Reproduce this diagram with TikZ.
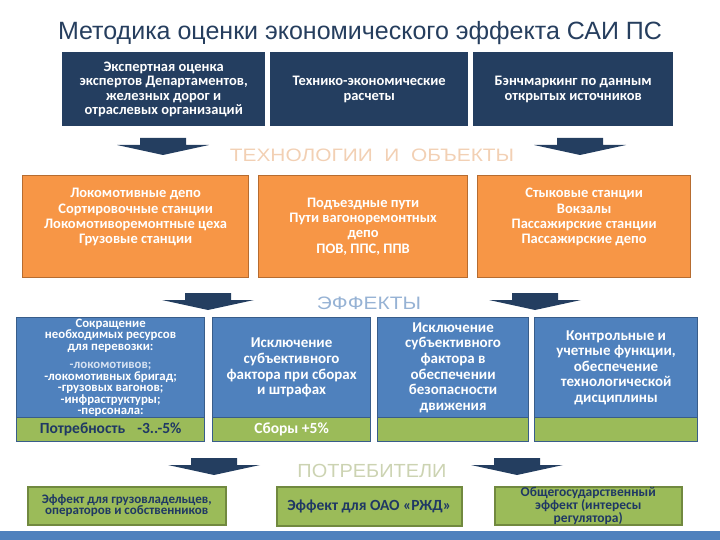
\documentclass[tikz,border=0pt]{standalone}
\usepackage{fontspec}
\setmainfont{Carlito}
\newfontfamily\arialf{Liberation Sans}
\newfontfamily\arialw[FakeStretch=1.16]{Liberation Sans}
\newfontfamily\arialv[FakeStretch=1.05]{Liberation Sans}
\definecolor{navy}{RGB}{36,62,96}
\definecolor{titlec}{RGB}{38,62,94}
\definecolor{orf}{RGB}{247,150,70}
\definecolor{ord}{RGB}{182,108,48}
\definecolor{blf}{RGB}{79,129,189}
\definecolor{bld}{RGB}{56,93,138}
\definecolor{grf}{RGB}{155,187,89}
\definecolor{grd}{RGB}{113,137,63}
\definecolor{dtext}{RGB}{31,56,100}
\definecolor{techc}{RGB}{242,208,180}
\definecolor{effc}{RGB}{150,178,212}
\definecolor{consc}{RGB}{204,211,178}
\definecolor{listc}{RGB}{214,226,242}
\tikzset{
 base/.style={anchor=north west, inner sep=0pt, align=center},
 topbox/.style={base, fill=navy, text=white, font=\bfseries\fontsize{14.5}{14.5}\selectfont},
 orbox/.style={base, fill=orf, draw=ord, line width=1.2pt, text=white, font=\bfseries\fontsize{14.5}{15.2}\selectfont},
 blbox/.style={base, fill=blf, draw=bld, line width=1.2pt, text=white, font=\bfseries\fontsize{15}{15.6}\selectfont},
 grstrip/.style={base, fill=grf, draw=bld, line width=1.2pt, font=\bfseries\fontsize{15.5}{15.5}\selectfont},
 cbox/.style={base, fill=grf, draw=grd, line width=1.5pt, text=dtext},
 seclabel/.style={anchor=base, inner sep=0pt, font=\arialw\fontsize{18}{18}\selectfont},
 barrow/.pic={\fill[navy] (-23,-7) -- (23,-7) -- (23,0) -- (46,0) -- (0,10) -- (-46,0) -- (-23,0) -- cycle;}
}
\begin{document}
\begin{tikzpicture}[x=1pt,y=-1pt]
\useasboundingbox (0,0) rectangle (720,540);
% title
\node[anchor=base, inner sep=0pt, font=\arialf\fontsize{25}{25}\selectfont, text=titlec] (title) at (360,40) {Методика оценки экономического эффекта САИ ПС};
% top boxes
\node[topbox, minimum width=203pt, minimum height=74pt] (t1) at (62,52) {Экспертная оценка\\экспертов Департаментов,\\железных дорог и\\отраслевых организаций};
\node[topbox, minimum width=198pt, minimum height=74pt] (t2) at (270,52) {Технико-экономические\\расчеты};
\node[topbox, minimum width=200pt, minimum height=74pt] (t3) at (473,52) {Бэнчмаркинг по данным\\открытых источников};
% arrows 1
\pic (a1) at (163,145) {barrow};
\pic (a2) at (580,145) {barrow};
\node[seclabel, text=techc] (tech) at (372,162) {ТЕХНОЛОГИИ\ \ И\ \ ОБЪЕКТЫ};
% orange boxes
\node[orbox, minimum width=226pt, minimum height=102pt] (o1) at (22,175) {Локомотивные депо\\Сортировочные станции\\Локомотиворемонтные цеха\\Грузовые станции\\[6pt]};
\node[orbox, minimum width=209pt, minimum height=102pt] (o2) at (258,175) {Подъездные пути\\Пути вагоноремонтных\\депо\\ПОВ, ППС, ППВ};
\node[orbox, minimum width=213pt, minimum height=102pt] (o3) at (477,175) {Стыковые станции\\Вокзалы\\Пассажирские станции\\Пассажирские депо\\[6pt]};
% arrows 2
\pic (a3) at (208,300) {barrow};
\pic (a4) at (535,300) {barrow};
\node[seclabel, text=effc] (eff) at (369,309) {ЭФФЕКТЫ};
% blue boxes
\node[blbox, minimum width=188pt, minimum height=100pt, font=\bfseries\fontsize{12.8}{11.5}\selectfont] (b1) at (16,317) {Сокращение\\необходимых ресурсов\\для перевозки:\\[7pt]\color{listc}-локомотивов;\\-локомотивных бригад;\\-грузовых вагонов;\\-инфраструктуры;\\-персонала:};
\node[blbox, minimum width=158pt, minimum height=100pt] (b2) at (212,317) {Исключение\\субъективного\\фактора при сборах\\и штрафах};
\node[blbox, minimum width=151pt, minimum height=100pt] (b3) at (377,317) {Исключение\\субъективного\\фактора в\\обеспечении\\безопасности\\движения};
\node[blbox, minimum width=163pt, minimum height=100pt] (b4) at (534,317) {Контрольные и\\учетные функции,\\обеспечение\\технологической\\дисциплины};
\node[grstrip, minimum width=188pt, minimum height=24pt, text=dtext] (g1) at (16,417) {Потребность\hspace{12pt}-3..-5\%};
\node[grstrip, minimum width=158pt, minimum height=24pt, text=white] (g2) at (212,417) {Сборы +5\%};
\node[grstrip, minimum width=151pt, minimum height=24pt] (g3) at (377,417) {};
\node[grstrip, minimum width=163pt, minimum height=24pt] (g4) at (534,417) {};
% arrows 3
\pic (a5) at (214,465) {barrow};
\pic (a6) at (517,465) {barrow};
\node[seclabel, text=consc, font=\arialv\fontsize{19}{19}\selectfont] (cons) at (372,477) {ПОТРЕБИТЕЛИ};
% consumer boxes
\node[cbox, minimum width=198pt, minimum height=38pt, font=\bfseries\fontsize{13}{11.5}\selectfont] (c1) at (27,486) {Эффект для грузовладельцев,\\операторов и собственников};
\node[cbox, minimum width=185pt, minimum height=39pt, font=\bfseries\fontsize{15.5}{15.5}\selectfont] (c2) at (276,486) {Эффект для ОАО «РЖД»};
\node[cbox, minimum width=187pt, minimum height=38pt, font=\bfseries\fontsize{13.5}{11}\selectfont] (c3) at (494,486) {Общегосударственный\\эффект (интересы\\регулятора)};
% bottom bar
\node[anchor=north west, inner sep=0pt, fill=blf, minimum width=720pt, minimum height=9pt] (bar) at (0,531) {};
\end{tikzpicture}
\end{document}
